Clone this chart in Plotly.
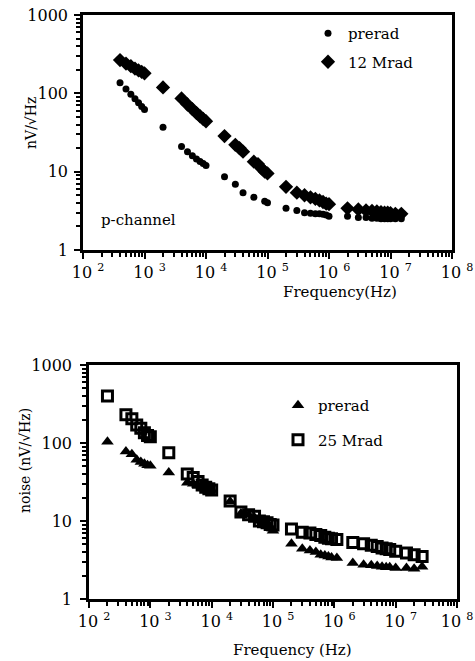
import plotly.graph_objects as go

# ---------------- data: top panel (p-channel) ----------------
top_pre_f = [400, 500, 600, 700, 800, 900, 1000, 2000,
             4000, 5000, 6000, 7000, 8000, 9000, 10000,
             20000, 30000, 40000, 60000, 90000, 100000,
             200000, 300000, 400000, 500000, 600000, 700000, 800000, 900000, 1000000,
             2000000, 3000000, 4000000, 5000000, 6000000, 7000000, 8000000, 9000000,
             10000000, 12000000, 15000000]
top_pre_v = [136, 114, 97, 85, 76, 68, 62, 37,
             21, 18, 16, 14.5, 13.5, 12.7, 12,
             8.6, 6.9, 5.4, 4.7, 4.2, 4.0,
             3.4, 3.2, 3.0, 2.95, 2.9, 2.9, 2.85, 2.8, 2.7,
             2.7, 2.6, 2.6, 2.55, 2.55, 2.5, 2.5, 2.5,
             2.5, 2.5, 2.5]

top_rad_f = [400, 500, 600, 700, 800, 900, 1000, 2000,
             4000, 5000, 6000, 7000, 8000, 9000, 10000,
             20000, 30000, 35000, 40000, 60000, 70000, 80000, 90000, 100000,
             200000, 300000, 400000, 500000, 600000, 700000, 800000, 900000, 1000000,
             2000000, 3000000, 4000000, 5000000, 6000000, 7000000, 8000000, 9000000,
             10000000, 12000000, 15000000]
top_rad_v = [266, 240, 222, 207, 196, 188, 180, 119,
             86, 72, 63, 56, 51, 47, 44,
             28.5, 22, 20, 18, 13.4, 12.5, 11, 10, 9.5,
             6.4, 5.4, 5.0, 4.7, 4.5, 4.3, 4.1, 3.9, 3.85,
             3.4, 3.3, 3.2, 3.15, 3.1, 3.05, 3.0, 3.0,
             2.95, 2.9, 2.9]

# ---------------- data: bottom panel ----------------
bot_pre_f = [200, 400, 500, 600, 700, 800, 900, 1000, 2000,
             4000, 5000, 6000, 7000, 8000, 9000, 10000,
             20000, 30000, 40000, 50000, 60000, 70000, 80000, 90000, 100000,
             200000, 300000, 400000, 500000, 600000, 700000, 800000, 900000, 1100000,
             2000000, 3000000, 4000000, 5000000, 6000000, 7000000, 8000000,
             10000000, 15000000, 20000000, 27000000]
bot_pre_v = [104, 78, 72, 61, 57, 54, 52, 51, 42,
             31, 30, 28, 27, 26, 25, 25,
             17.8, 12.5, 12, 11, 10, 9.5, 9, 8.5, 7.5,
             5.1, 4.4, 4.2, 4.0, 3.7, 3.6, 3.5, 3.4, 3.35,
             2.9, 2.75, 2.7, 2.65, 2.6, 2.55, 2.55,
             2.5, 2.5, 2.45, 2.6]

bot_rad_f = [200, 400, 500, 600, 700, 800, 900, 1000, 2000,
             4000, 5000, 6000, 7000, 8000, 9000, 10000,
             20000, 30000, 40000, 50000, 60000, 70000, 80000, 90000, 100000,
             200000, 300000, 400000, 500000, 600000, 700000, 800000, 900000, 1100000,
             2000000, 3000000, 4000000, 5000000, 6000000, 7000000, 8000000,
             10000000, 15000000, 20000000, 27000000]
bot_rad_v = [400, 230, 205, 170, 155, 135, 125, 120, 75,
             40, 36, 32, 29, 27, 26, 25,
             18, 13, 12, 11.5, 10, 9.8, 9.5, 9, 8.9,
             7.9, 7.2, 7.0, 6.7, 6.5, 6.2, 6.0, 5.9, 5.8,
             5.3, 5.1, 4.9, 4.7, 4.5, 4.4, 4.3,
             4.1, 3.9, 3.7, 3.5]

x_tickvals = [1e2, 1e3, 1e4, 1e5, 1e6, 1e7, 1e8]
x_exps = ["2", "3", "4", "5", "6", "7", "8"]
y_tickvals = [1, 10, 100, 1000]
y_ticktext = ["1", "10", "100", "1000"]
x_minor = [m * 10 ** d for d in range(2, 8) for m in range(2, 10)]
y_minor = [m * 10 ** d for d in range(0, 3) for m in range(2, 10)]

FONT = "DejaVu Serif"
NB = "\u00a0"
x_ticktext = [NB * 2 + "10" + NB + "<sup>" + e + "</sup>" for e in x_exps]
# last label of the lower panel sits at the window edge: drop its left padding
x_ticktext2 = x_ticktext[:-1] + ["10" + NB + "<sup>" + x_exps[-1] + "</sup>"]

fig = go.Figure()

fig.add_trace(go.Scatter(x=top_pre_f, y=top_pre_v, mode="markers", name="prerad",
                         marker=dict(symbol="circle", size=7, color="black"),
                         xaxis="x", yaxis="y", legend="legend", legendgroup="a"))
fig.add_trace(go.Scatter(x=top_rad_f, y=top_rad_v, mode="markers", name="12 Mrad",
                         marker=dict(symbol="diamond", size=11, color="black"),
                         xaxis="x", yaxis="y", legend="legend", legendgroup="b"))
fig.add_trace(go.Scatter(x=bot_pre_f, y=bot_pre_v, mode="markers", name="prerad",
                         marker=dict(symbol="triangle-up", size=11, color="black"),
                         xaxis="x2", yaxis="y2", legend="legend2", legendgroup="c"))
fig.add_trace(go.Scatter(x=bot_rad_f, y=bot_rad_v, mode="markers", name="25 Mrad",
                         marker=dict(symbol="square-open", size=10, color="black",
                                     line=dict(width=3, color="black")),
                         xaxis="x2", yaxis="y2", legend="legend2", legendgroup="d"))

W, H = 475, 661

def px_x(p):
    return p / W

def px_y(p):
    return 1 - p / H

def axis_common(minor_vals):
    return dict(type="log", showgrid=False, zeroline=False, showline=True,
                automargin=False, ticklabeloverflow="allow",
                linecolor="black", linewidth=2.5, mirror=True,
                ticks="outside", ticklen=6, tickwidth=2, tickcolor="black",
                minor=dict(ticks="outside", ticklen=4, tickwidth=2,
                           tickcolor="black", tickmode="array",
                           tickvals=minor_vals, showgrid=False),
                tickfont=dict(family=FONT, size=16, color="black"))

def ann(text, x, y, size=15, angle=0, xanchor="center"):
    return dict(text=text, xref="paper", yref="paper", x=px_x(x), y=px_y(y),
                xanchor=xanchor, yanchor="middle", textangle=angle,
                showarrow=False, font=dict(family=FONT, size=size, color="black"))

fig.update_layout(
    width=W, height=H,
    margin=dict(l=0, r=0, t=0, b=0, pad=0, autoexpand=False),
    paper_bgcolor="white", plot_bgcolor="white",
    font=dict(family=FONT, color="black"),
    xaxis=dict(axis_common(x_minor), domain=[px_x(83), px_x(452)], range=[2, 8],
               tickmode="array", tickvals=x_tickvals, ticktext=x_ticktext,
               anchor="y"),
    yaxis=dict(axis_common(y_minor), domain=[px_y(250), px_y(15)], range=[0, 3],
               tickmode="array", tickvals=y_tickvals, ticktext=y_ticktext,
               anchor="x", ticklabelstandoff=3),
    xaxis2=dict(axis_common(x_minor), domain=[px_x(89), px_x(457)], range=[2, 8],
                tickmode="array", tickvals=x_tickvals, ticktext=x_ticktext2,
                anchor="y2"),
    yaxis2=dict(axis_common(y_minor), domain=[px_y(599), px_y(365)], range=[0, 3],
                tickmode="array", tickvals=y_tickvals, ticktext=y_ticktext,
                anchor="x2", ticklabelstandoff=5),
    legend=dict(x=px_x(308), y=px_y(17), xanchor="left", yanchor="top",
                bgcolor="rgba(0,0,0,0)", borderwidth=0,
                font=dict(family=FONT, size=15, color="black"),
                traceorder="grouped", tracegroupgap=6),
    legend2=dict(x=px_x(278), y=px_y(389), xanchor="left", yanchor="top",
                 bgcolor="rgba(0,0,0,0)", borderwidth=0,
                 font=dict(family=FONT, size=15, color="black"),
                 traceorder="grouped", tracegroupgap=12),
    showlegend=True,
    annotations=[
        ann("nV/\u221aHz", 31, 123, size=14, angle=-90),
        ann("Frequency(Hz)", 340, 292),
        ann("p-channel", 99, 220, xanchor="left"),
        ann("noise (nV/\u221aHz)", 25, 461, size=14, angle=-90),
        ann("Frequency (Hz)", 292, 650),
    ],
)

fig.write_html("out.html")
